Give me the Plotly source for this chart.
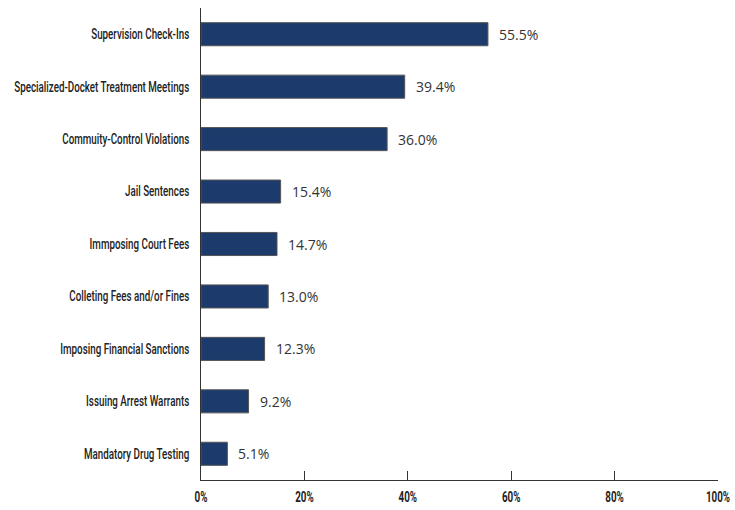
import plotly.graph_objects as go

categories = [
    "Supervision Check-Ins",
    "Specialized-Docket Treatment Meetings",
    "Commuity-Control Violations",
    "Jail Sentences",
    "Immposing Court Fees",
    "Colleting Fees and/or Fines",
    "Imposing Financial Sanctions",
    "Issuing Arrest Warrants",
    "Mandatory Drug Testing",
]
values = [55.5, 39.4, 36.0, 15.4, 14.7, 13.0, 12.3, 9.2, 5.1]
x_ticks = [0, 20, 40, 60, 80, 100]
x_tick_labels = ["0%", "20%", "40%", "60%", "80%", "100%"]

label_font = "Roboto, Noto Sans, sans-serif"

fig = go.Figure(
    go.Bar(
        y=categories,
        x=values,
        orientation="h",
        marker=dict(color="#1c3a6b", line=dict(color="#555555", width=1)),
        width=0.44,
        cliponaxis=False,
    )
)

# value labels placed just past each bar end
for cat, v in zip(categories, values):
    fig.add_annotation(
        x=v, y=cat, text=f"{v:.1f}%", showarrow=False,
        xanchor="left", xshift=9,
        font=dict(family="Open Sans, Noto Sans, sans-serif", size=14, color="#333333"),
    )

fig.update_layout(
    width=735,
    height=510,
    margin=dict(l=201, r=17, t=8, b=30),
    plot_bgcolor="white",
    paper_bgcolor="white",
    showlegend=False,
)

fig.update_xaxes(
    range=[0, 100],
    tickvals=x_ticks,
    ticktext=x_tick_labels,
    ticks="inside",
    ticklen=9,
    tickwidth=1,
    tickcolor="#333333",
    showline=True,
    linecolor="#333333",
    linewidth=1,
    showgrid=False,
    zeroline=False,
    automargin=False,
    ticklabeloverflow="allow",
    ticklabelstandoff=4,
    tickfont=dict(family=label_font, size=14, color="#222222", weight=700),
)

fig.update_yaxes(
    categoryorder="array",
    categoryarray=categories[::-1],
    range=[-0.5, 8.5],
    showline=True,
    linecolor="#333333",
    linewidth=1,
    showgrid=False,
    ticks="",
    automargin=False,
    ticklabelstandoff=8,
    tickfont=dict(family=label_font, size=14, color="#222222", weight=500),
)

# narrow the axis label glyphs to a condensed look
condense_js = """
var gd = document.getElementById('{plot_id}');
gd.querySelectorAll('.ytick text, .xtick text').forEach(function (t) {
  var w = t.getComputedTextLength();
  t.setAttribute('textLength', (w * 0.7).toFixed(1));
  t.setAttribute('lengthAdjust', 'spacingAndGlyphs');
});
"""

fig.write_html("out.html", post_script=condense_js)
